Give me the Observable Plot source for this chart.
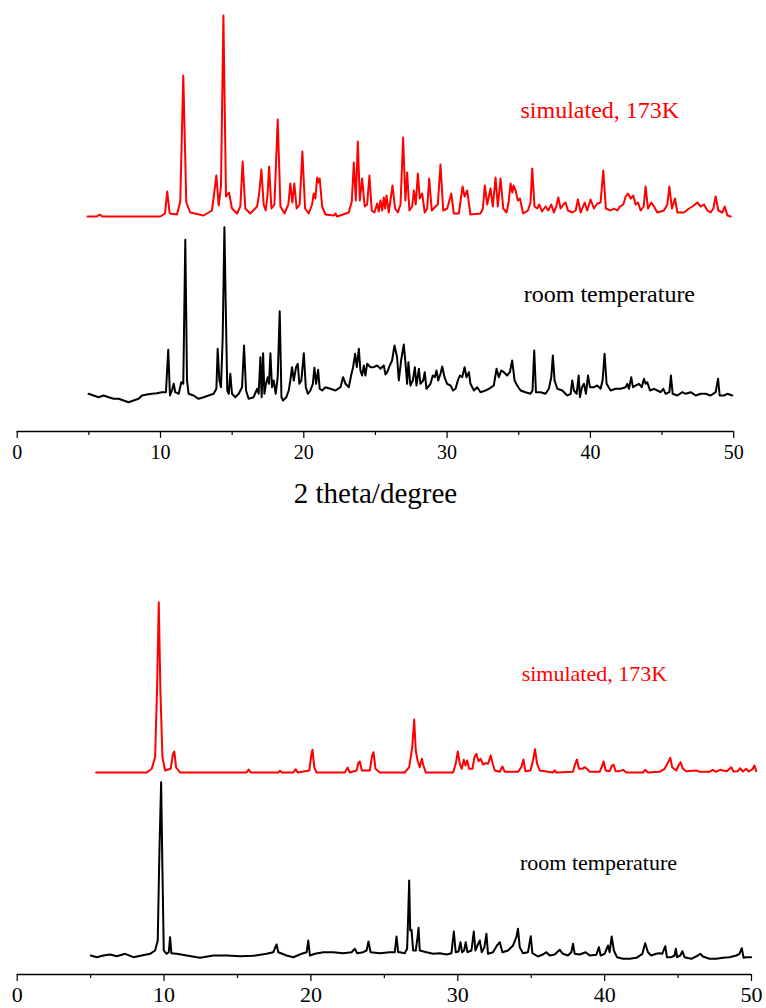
<!DOCTYPE html>
<html><head><meta charset="utf-8">
<script src="https://cdn.jsdelivr.net/npm/d3@7"></script>
<script src="https://cdn.jsdelivr.net/npm/@observablehq/plot@0.6"></script>
<style>
html,body{margin:0;padding:0;background:#fff;}
#chart{width:766px;height:1008px;overflow:hidden;position:relative;}
#chart svg{display:block;}
#chart svg text{font-family:'Liberation Serif','Times New Roman',Times,serif !important;}
</style></head><body><div id="chart"></div>
<script>
// ---- data: [2theta (deg), intensity above the pattern's own baseline (a.u.)] ----
const majorTicks = [0, 10, 20, 30, 40, 50];
const minorTicks = [5, 15, 25, 35, 45];
const seriesNames = ["simulated, 173K", "room temperature"];
const seriesColors = ["#ff0000", "#000000"];

const topSimulated = [[4.91,0],[5.56,0],[5.75,2],[5.94,0],[9.99,0],[10.31,3],[10.47,25],[10.64,3],[11.15,2],[11.38,15],[11.59,141],[11.80,14],[12.08,4],[13.01,1],[13.59,6],[13.90,41],[14.06,11],[14.22,30],[14.39,201],[14.57,20],[14.78,24],[14.99,8],[15.34,3],[15.57,10],[15.73,55],[15.92,8],[16.27,3],[16.74,10],[16.88,22],[17.04,47],[17.20,12],[17.34,6],[17.46,20],[17.58,50],[17.74,8],[17.95,12],[18.18,97],[18.37,10],[18.65,3],[18.92,12],[19.06,33],[19.20,14],[19.34,33],[19.50,8],[19.71,12],[19.90,65],[20.09,8],[20.34,3],[20.58,12],[20.69,23],[20.81,18],[20.93,39],[21.02,34],[21.11,38],[21.28,10],[21.51,2],[22.09,1],[22.21,3],[22.32,0],[23.14,4],[23.35,15],[23.49,54],[23.63,16],[23.77,75],[23.91,16],[24.07,38],[24.25,10],[24.42,12],[24.58,41],[24.74,6],[24.93,4],[25.12,13],[25.23,5],[25.35,16],[25.47,6],[25.58,19],[25.68,8],[25.77,21],[25.93,4],[26.19,31],[26.37,8],[26.56,4],[26.75,12],[26.93,79],[27.09,16],[27.21,44],[27.37,6],[27.56,10],[27.68,26],[27.81,12],[27.96,43],[28.09,18],[28.26,23],[28.44,4],[28.61,8],[28.75,38],[28.93,6],[29.19,10],[29.35,12],[29.54,52],[29.73,6],[30.01,8],[30.29,23],[30.47,3],[30.82,3],[31.08,30],[31.22,20],[31.40,26],[31.63,2],[32.33,3],[32.50,8],[32.63,31],[32.80,12],[33.03,28],[33.19,10],[33.38,39],[33.54,10],[33.73,38],[33.92,8],[34.15,4],[34.29,14],[34.43,33],[34.55,24],[34.64,31],[34.78,26],[34.94,16],[35.08,18],[35.31,3],[35.64,6],[35.82,14],[35.94,48],[36.10,10],[36.29,8],[36.43,12],[36.62,5],[36.87,10],[37.06,6],[37.27,12],[37.45,4],[37.62,10],[37.76,19],[37.92,8],[38.11,12],[38.27,14],[38.43,6],[38.74,4],[38.97,6],[39.13,17],[39.32,4],[39.60,14],[39.78,6],[40.01,17],[40.25,8],[40.48,13],[40.71,14],[40.90,46],[41.08,8],[41.41,6],[41.64,8],[41.88,6],[42.06,10],[42.30,12],[42.46,20],[42.62,23],[42.81,18],[42.99,21],[43.16,12],[43.32,14],[43.51,6],[43.72,10],[43.85,30],[44.02,8],[44.25,14],[44.44,10],[44.67,4],[45.13,6],[45.37,12],[45.51,30],[45.69,8],[45.90,18],[46.07,4],[46.53,4],[46.88,8],[47.12,10],[47.46,14],[47.70,10],[47.93,12],[48.16,6],[48.39,4],[48.58,8],[48.74,20],[48.93,6],[49.21,4],[49.37,10],[49.56,1],[49.79,0]];

const topRoomTemp = [[4.98,2.7],[5.33,1],[5.68,-0.7],[6.03,1],[6.38,-0.7],[6.73,-2.3],[7.08,-2.3],[7.42,-4],[7.77,-5.7],[8.12,-4],[8.47,-2.3],[8.71,1],[9.06,2],[9.41,2.7],[9.75,3.3],[10.10,4.3],[10.38,4.3],[10.54,46.7],[10.66,1],[10.80,6],[10.92,12.7],[11.03,4.3],[11.27,2.7],[11.45,14.3],[11.59,12.7],[11.73,156.7],[11.85,16],[11.96,2.7],[12.31,1],[12.66,-2.3],[13.01,-0.7],[13.36,1],[13.71,2.7],[13.90,7.7],[13.99,47.7],[14.11,16],[14.22,9.3],[14.34,59.3],[14.46,169.3],[14.57,76],[14.66,6],[14.76,2.7],[14.87,22.7],[14.99,2.7],[15.22,-0.7],[15.46,2.7],[15.69,9.3],[15.83,51],[15.97,6],[16.15,-2.3],[16.50,-0.7],[16.74,7.7],[16.85,2.7],[16.97,39.3],[17.06,-0.7],[17.16,43.3],[17.25,2.7],[17.36,12.7],[17.48,19.3],[17.57,12.7],[17.67,43.3],[17.78,9.3],[17.90,16],[18.04,2.7],[18.18,19.3],[18.32,85.3],[18.44,-0.7],[18.55,-4],[18.78,-0.7],[18.95,6],[19.06,16],[19.18,29.3],[19.30,16],[19.46,29.3],[19.58,32.7],[19.69,12.7],[19.83,16],[20.00,43.3],[20.14,9.3],[20.28,2.7],[20.46,6],[20.63,12.7],[20.74,28.7],[20.86,12.7],[21.00,26.7],[21.11,7.7],[21.28,6],[21.51,9.3],[21.86,7.7],[22.21,6],[22.56,9.3],[22.74,19.3],[22.91,12.7],[23.14,9.3],[23.30,21],[23.44,29.3],[23.58,42.7],[23.70,29.3],[23.84,47.7],[23.95,26],[24.07,21],[24.19,31],[24.30,21],[24.42,32.7],[24.65,29.3],[24.88,29.3],[25.12,31],[25.35,27.7],[25.58,31],[25.70,22],[25.82,24.3],[26.00,31],[26.16,36],[26.33,51],[26.51,39.3],[26.63,16],[26.79,36],[26.98,52],[27.12,29.3],[27.21,12.7],[27.30,34.3],[27.44,11],[27.61,16],[27.75,29.3],[27.86,11],[28.03,27.7],[28.14,12.7],[28.33,16],[28.44,24.3],[28.56,7.7],[28.84,12.7],[29.00,21],[29.14,19.3],[29.26,26],[29.38,16],[29.54,22.7],[29.66,30],[29.82,19.3],[30.00,12.7],[30.24,11],[30.42,6],[30.59,7.7],[30.75,16],[30.89,21],[31.05,19.3],[31.22,29.3],[31.35,19.3],[31.52,24.3],[31.63,12.7],[31.87,6],[32.10,9.3],[32.33,4.3],[32.68,6],[32.91,7.7],[33.26,11],[33.45,27.7],[33.61,19.3],[33.78,26],[33.96,24.3],[34.19,21],[34.38,24.3],[34.54,36],[34.71,16],[34.89,11],[35.13,6],[35.47,4.3],[35.82,2.7],[35.96,6],[36.08,46],[36.20,4.3],[36.52,4.3],[36.87,2.7],[37.10,7.7],[37.27,19.3],[37.38,41],[37.50,16],[37.69,7.7],[38.04,6],[38.38,1],[38.62,2.7],[38.73,16],[38.85,6],[39.04,2.7],[39.18,21],[39.27,-0.7],[39.41,9.3],[39.55,12.7],[39.69,2.7],[39.83,21],[39.97,9.3],[40.25,9.3],[40.48,11],[40.71,7.7],[40.85,16],[40.99,42.7],[41.13,12.7],[41.41,6],[41.76,7.7],[42.11,7.7],[42.46,9.3],[42.57,12.7],[42.69,7.7],[42.85,19.3],[42.97,9.3],[43.16,11],[43.39,12.7],[43.58,9.3],[43.74,17.7],[43.85,12.7],[43.97,14.3],[44.16,6],[44.44,7.7],[44.67,6],[44.90,4.3],[45.09,7.7],[45.25,2.7],[45.51,4.3],[45.62,21],[45.74,2.7],[46.07,1],[46.42,4.3],[46.65,2.7],[47.00,4.3],[47.35,1],[47.70,2.7],[48.04,2.7],[48.39,1],[48.74,4.3],[48.91,17.7],[49.02,1],[49.32,1],[49.56,2.7],[49.90,1]];

const bottomSimulated = [[5.37,0],[8.82,0],[9.16,3.7],[9.39,15.3],[9.52,82],[9.64,170.3],[9.75,82],[9.89,15.3],[10.07,2],[10.45,3.7],[10.61,18.7],[10.70,21],[10.82,5],[11.09,0],[15.62,0],[15.76,3],[15.90,0],[17.78,0],[17.89,1.7],[18.03,0],[18.80,0],[18.96,3.3],[19.10,0],[19.89,2],[20.02,17],[20.11,22.7],[20.23,5],[20.39,0],[22.31,0],[22.50,5],[22.65,0],[23.11,2],[23.24,10],[23.33,11],[23.47,2],[24.01,2],[24.17,17],[24.26,20.3],[24.40,3.7],[24.69,0],[26.39,0],[26.69,5.3],[26.90,25.3],[27.03,53],[27.14,22],[27.26,12],[27.41,5.3],[27.55,13.7],[27.66,7],[27.82,0],[29.68,0],[29.86,8.7],[30.00,21],[30.14,8.7],[30.27,3.7],[30.41,12.7],[30.52,7],[30.64,12],[30.77,3.7],[31.00,3.7],[31.13,15.3],[31.27,18.7],[31.41,11.3],[31.56,13.7],[31.72,8],[31.90,9.3],[32.06,8.7],[32.24,17],[32.38,8.7],[32.52,2],[32.86,0.7],[33.04,6],[33.20,0.7],[34.10,0.7],[34.33,5.3],[34.47,13],[34.60,1.3],[34.95,2],[35.12,12],[35.26,23.3],[35.40,8.7],[35.58,2],[36.49,0],[36.60,2],[36.71,0],[37.84,0.7],[38.00,8.7],[38.12,13],[38.25,3.7],[38.48,3.7],[38.64,5.3],[38.80,3.7],[38.98,0.7],[39.66,0.7],[39.82,6],[39.93,11],[40.07,2],[40.34,1.3],[40.50,7],[40.61,7.7],[40.75,1.3],[41.02,1.3],[41.25,2.7],[41.48,0],[42.61,0],[42.76,2.7],[42.95,0],[43.74,0.7],[44.08,3.7],[44.33,10.3],[44.47,14.7],[44.60,5.3],[44.88,2],[45.03,7],[45.17,10.3],[45.33,3.7],[45.56,1.3],[46.24,2],[46.46,0.7],[47.14,0.7],[47.37,2.7],[47.55,0.7],[47.87,2.7],[48.05,2],[48.32,1.3],[48.62,5.3],[48.78,1],[49.07,1.3],[49.23,4.3],[49.41,1],[49.64,3.7],[49.82,1],[50.09,3.7],[50.20,7],[50.32,1.3]];

const bottomRoomTemp = [[5.01,0],[5.42,-1.7],[5.87,0],[6.33,1],[6.78,-0.7],[7.35,1.7],[7.91,-1.7],[8.48,0],[9.05,1.7],[9.39,5],[9.57,15],[9.68,101.7],[9.80,173.3],[9.89,85],[9.98,5],[10.18,1.7],[10.32,3.3],[10.41,18.3],[10.50,2.3],[10.86,1.7],[11.54,0],[12.45,-2.3],[13.36,0],[14.27,0],[15.17,-0.7],[16.08,-0.3],[16.98,1.7],[17.44,3.3],[17.66,11],[17.78,3.3],[18.34,0],[18.80,-1.7],[19.37,1.7],[19.71,3.3],[19.82,15],[19.93,0],[20.27,1.7],[20.84,3.3],[21.52,3.3],[22.20,2.3],[22.77,3.3],[22.99,6.7],[23.15,2.3],[23.56,3.3],[23.79,5],[23.92,14],[24.06,3.3],[24.69,2.3],[25.37,3.3],[25.71,3.3],[25.83,19],[25.94,3.3],[26.05,3.3],[26.39,2.3],[26.55,6.7],[26.62,38.3],[26.69,75],[26.76,25],[26.85,25.7],[26.96,5],[27.14,5],[27.26,18.3],[27.33,27.7],[27.41,5],[27.87,3.3],[28.32,1.7],[28.78,2.3],[29.23,1],[29.57,2.3],[29.73,24],[29.86,3.3],[30.05,4],[30.18,13.3],[30.29,3.3],[30.43,5],[30.54,13.3],[30.66,3.3],[30.93,5],[31.09,24],[31.20,5],[31.34,10],[31.50,15],[31.63,3.3],[31.81,8.3],[31.95,21.7],[32.06,1.7],[32.40,3.3],[32.67,10],[32.86,13.3],[33.04,3.3],[33.42,5],[33.76,10],[33.99,18.3],[34.10,26.7],[34.22,8.3],[34.44,2.3],[34.78,3.3],[34.97,19.3],[35.08,2.3],[35.46,-1],[35.80,1],[36.03,3.3],[36.26,0],[36.60,1],[36.94,5.7],[37.16,1.7],[37.50,0],[37.73,3.3],[37.85,11.7],[37.96,1.7],[38.30,1],[38.71,3.3],[38.98,0],[39.43,0.7],[39.61,8.3],[39.73,0],[40.00,1.7],[40.23,10],[40.34,3.3],[40.48,19],[40.63,5],[40.84,-1.7],[41.25,-3.3],[41.70,-3.3],[42.16,-2.3],[42.57,1.7],[42.76,12.3],[42.95,3.3],[43.17,0],[43.51,1.7],[43.74,2.3],[43.92,1.7],[44.13,9.3],[44.24,-1.7],[44.54,-1.7],[44.76,0],[44.85,6.7],[44.94,-1.7],[45.15,0],[45.29,4.3],[45.44,-1.7],[45.90,-3.3],[46.35,0],[46.51,1.7],[46.69,-1],[47.14,-3.3],[47.60,-3.3],[48.05,-2.3],[48.50,-1.7],[48.96,0],[49.18,1.7],[49.34,7.3],[49.46,-2.3],[49.64,-1.7],[49.98,-1.7]];

// ---- rendering ----
const serif = "Liberation Serif, Times New Roman, Times, serif";

function panel(o) {
  const toRows = (arr, off, name) => arr.map(([x, v]) => ({x, y: v + off, name}));
  const sim = toRows(o.sim, o.simOffset, seriesNames[0]);
  const room = toRows(o.room, o.roomOffset, seriesNames[1]);
  const marks = [
    Plot.ruleY([0], {stroke: "#000", strokeWidth: 1.3}),
    Plot.axisX({ticks: majorTicks, tickSize: 7, tickFormat: () => "", strokeWidth: 1.2, label: null}),
    Plot.axisX({ticks: minorTicks, tickSize: 4, tickFormat: () => "", strokeWidth: 1.2, label: null}),
    Plot.text(majorTicks, {x: d => d, text: d => String(d), frameAnchor: "bottom", dy: o.tickBaseline,
      lineAnchor: "bottom", fontSize: o.tickFont, fontFamily: serif, fill: "#000"}),
    Plot.line(room, {x: "x", y: "y", stroke: seriesColors[1], strokeWidth: 2, strokeLinejoin: "round"}),
    Plot.line(sim, {x: "x", y: "y", stroke: seriesColors[0], strokeWidth: 2, strokeLinejoin: "round"}),
    Plot.text(o.labels, {x: "x", y: "y", text: "text", fill: "color", textAnchor: "start", lineAnchor: "bottom",
      fontSize: o.labelFont, fontFamily: serif})
  ];
  if (o.xLabel) marks.push(Plot.text([o.xLabel], {frameAnchor: "bottom", dy: 71, lineAnchor: "bottom",
      fontSize: 29, fontFamily: serif, fill: "#000"}));
  return Plot.plot({
    width: 766, height: o.height,
    marginLeft: 16.7, marginRight: o.marginRight, marginTop: 0, marginBottom: o.marginBottom,
    style: {fontFamily: serif, color: "#000", background: "#fff"},
    x: {domain: [0, 50], axis: null},
    y: {domain: [0, o.yMax], axis: null},
    color: {type: "identity"},
    marks
  });
}

const chart = document.getElementById("chart");
chart.append(panel({
  height: 540, marginBottom: 109, marginRight: 32.8, yMax: 431,
  sim: topSimulated, simOffset: 215, room: topRoomTemp, roomOffset: 35,
  tickFont: 20, tickBaseline: 27, labelFont: 24, xLabel: "2 theta/degree",
  labels: [
    {text: seriesNames[0], x: 35.12, y: 314, color: seriesColors[0]},
    {text: seriesNames[1], x: 35.35, y: 130, color: seriesColors[1]}
  ]
}));
chart.append(panel({
  height: 468, marginBottom: 34, marginRight: 15, yMax: 434,
  sim: bottomSimulated, simOffset: 202, room: bottomRoomTemp, roomOffset: 19,
  tickFont: 22, tickBaseline: 27, labelFont: 22, xLabel: null,
  labels: [
    {text: seriesNames[0], x: 34.35, y: 294, color: seriesColors[0]},
    {text: seriesNames[1], x: 34.24, y: 105, color: seriesColors[1]}
  ]
}));
</script></body></html>
